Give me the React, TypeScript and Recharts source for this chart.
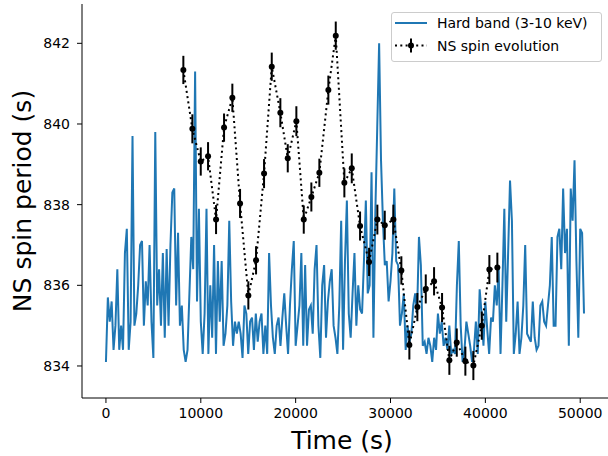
import React from 'react';
import { ComposedChart, Line, XAxis, YAxis, ErrorBar, Legend } from 'recharts';

// hard band light curve, scaled onto the spin-period axis, one value per 200 s bin
const BIN_S = 200;
const hardBand = [
  834.1, 835.7, 835.1, 835.6, 834.4, 835.0, 836.4, 834.4, 835.0, 834.4,
  836.8, 837.4, 834.4, 835.1, 839.7, 835.0, 835.3, 836.0, 837.0, 837.1,
  835.0, 836.1, 835.5, 837.0, 835.1, 834.2, 839.8, 835.5, 836.4, 835.0,
  836.8, 834.7, 836.9, 835.0, 837.0, 838.3, 838.4, 835.5, 837.3, 835.0,
  835.5, 834.4, 834.1, 834.4, 835.8, 837.2, 836.4, 841.3, 835.6, 837.9,
  835.1, 834.3, 835.3, 837.9, 834.3, 836.0, 834.7, 837.0, 834.3, 836.6,
  835.1, 836.6, 834.5,
  834.8, 835.5, 837.6, 835.6, 834.5, 835.1, 834.8, 835.1, 834.8, 834.2,
  835.5, 835.3, 834.3, 835.1, 835.2, 834.4, 835.3, 834.6, 835.1, 835.3,
  834.3, 835.0, 834.3, 836.8, 835.5, 834.7, 834.3, 835.0, 835.2, 834.5,
  835.2, 835.8, 835.0, 834.3, 835.5, 836.4, 837.1, 834.5, 835.0, 835.5,
  836.8, 834.5, 836.5, 834.5, 835.4, 835.5, 834.8, 836.4, 837.0, 835.0,
  834.2, 836.0, 836.5, 834.7, 835.6, 836.1, 836.4, 835.0, 834.7, 834.3,
  835.5, 837.6,
  834.4, 836.6, 838.1, 835.3, 834.7, 835.8, 836.8, 835.0, 836.0, 835.4,
  835.3, 836.6, 838.1, 835.8, 836.0, 838.8, 834.7, 837.8, 839.9, 842.0,
  839.1, 837.6, 836.5, 836.6, 835.6, 836.1, 836.8, 838.4, 836.6, 836.5,
  835.0, 835.3, 835.8, 834.4, 835.0, 834.6, 834.8, 835.5, 835.8, 835.3,
  837.2, 836.5, 834.5, 834.6, 834.3, 834.7, 834.5, 834.1, 834.7, 834.4,
  835.3, 834.8, 835.1, 834.5, 834.7, 834.4, 835.0, 834.3, 834.4, 834.3,
  836.0, 837.1, 835.0, 834.1, 834.4,
  835.1, 834.8, 834.5, 834.1, 834.4, 835.1, 834.3, 835.9, 835.3, 834.5,
  835.6, 834.9, 834.3, 835.2, 835.1, 836.0, 835.5, 836.4, 834.3, 836.0,
  837.9, 835.1, 836.8, 838.6, 837.6, 834.3, 834.8, 835.6, 834.3, 834.7,
  835.5, 837.0, 834.8, 834.7, 834.6, 835.6, 834.7, 834.4, 834.5, 835.5,
  835.6, 835.1, 835.0, 835.5, 836.0, 837.2, 835.0, 835.0, 837.2, 837.4,
  836.4, 838.4, 836.8, 837.4, 834.5, 838.4, 837.6, 839.1, 836.6, 834.7,
  837.4, 837.3, 835.3,
];

// NS spin evolution
const spinTimes = [
  8160, 9110, 9995, 10764, 11608, 12451, 13326, 14138, 15013, 15825,
  16668, 17480, 18387, 19167, 20074, 20854, 21655, 22499, 23448, 24228,
  25135, 25915, 26790, 27739, 28614, 29394, 30301, 31144, 31988, 32831,
  33717, 34592, 35435, 36205, 36985, 37892, 38735, 39621, 40422, 41265,
];
const spinPeriods = [
  841.34, 839.88, 839.07, 839.2, 837.63, 839.91, 840.65, 838.03, 835.75, 836.62,
  838.77, 841.42, 840.28, 839.15, 840.07, 837.63, 838.19, 838.79, 840.84, 842.19,
  838.54, 838.9, 837.47, 836.58, 837.63, 837.49, 837.63, 836.37, 834.52, 835.46,
  835.91, 836.1, 835.45, 834.14, 834.58, 834.12, 834.01, 835.0, 836.39, 836.44,
];
const spinErrors = [
  0.35, 0.36, 0.35, 0.35, 0.36, 0.35, 0.35, 0.36, 0.35, 0.35,
  0.36, 0.35, 0.36, 0.35, 0.37, 0.35, 0.36, 0.35, 0.36, 0.35,
  0.36, 0.37, 0.36, 0.35, 0.37, 0.36, 0.37, 0.35, 0.36, 0.35,
  0.36, 0.35, 0.36, 0.36, 0.35, 0.36, 0.36, 0.35, 0.36, 0.37,
];

const xTicks = [0, 10000, 20000, 30000, 40000, 50000];
const yTicks = [834, 836, 838, 840, 842];
const X_DOMAIN: [number, number] = [-2525, 53035];
const Y_DOMAIN: [number, number] = [833.206, 842.975];

const hardData = hardBand.map((v, i) => ({ t: i * BIN_S, rate: v }));
const spinData = spinTimes.map((t, i) => ({ t, period: spinPeriods[i], err: spinErrors[i] }));

const FONT = '"DejaVu Sans", sans-serif';
const BLUE = '#1f77b4';

const tickStyle = { fill: '#000', fontSize: 14, fontFamily: FONT };

const LegendBox = () => (
  <div
    style={{
      position: 'relative',
      width: 209,
      height: 48,
      border: '1px solid #cccccc',
      borderRadius: 3,
      background: 'rgba(255,255,255,0.8)',
      fontFamily: FONT,
      fontSize: 14,
      color: '#000',
    }}
  >
    <svg width={46} height={48} style={{ position: 'absolute', left: 0, top: 0 }}>
      <line x1={3} x2={35} y1={10} y2={10} stroke={BLUE} strokeWidth={2} />
      <line x1={3} x2={35} y1={32.5} y2={32.5} stroke="#000" strokeWidth={2} strokeDasharray="2 3.3" />
      <line x1={19} x2={19} y1={25.5} y2={39.5} stroke="#000" strokeWidth={2} />
      <circle cx={19} cy={32.5} r={3} fill="#000" />
    </svg>
    <div style={{ position: 'absolute', left: 45, top: 1, lineHeight: '18px', whiteSpace: 'nowrap' }}>
      Hard band (3-10 keV)
    </div>
    <div style={{ position: 'absolute', left: 45, top: 23.5, lineHeight: '18px', whiteSpace: 'nowrap' }}>
      NS spin evolution
    </div>
  </div>
);

const XLabel = () => (
  <text x={342} y={449} textAnchor="middle" fontSize={25} fontFamily={FONT} fill="#000">
    Time (s)
  </text>
);

const YLabel = () => (
  <text
    x={22}
    y={201}
    transform="rotate(-90 22 201)"
    textAnchor="middle"
    dominantBaseline="central"
    fontSize={25}
    fontFamily={FONT}
    fill="#000"
  >
    NS spin period (s)
  </text>
);

export default function App() {
  return (
    <div
      style={{
        position: 'absolute',
        left: 0,
        top: 0,
        width: 608,
        height: 456,
        overflow: 'hidden',
        background: '#fff',
      }}
    >
      <ComposedChart width={620} height={456} margin={{ top: 4, right: 11, bottom: 0, left: 0 }}>
        <XAxis
          xAxisId="top"
          orientation="top"
          type="number"
          domain={X_DOMAIN}
          allowDataOverflow
          height={0}
          tick={false}
          tickLine={false}
          axisLine={{ stroke: '#000', strokeWidth: 1 }}
        />
        <XAxis
          type="number"
          dataKey="t"
          domain={X_DOMAIN}
          allowDataOverflow
          ticks={xTicks}
          height={58}
          tickSize={5}
          tickMargin={5}
          tick={tickStyle}
          tickLine={{ stroke: '#000' }}
          axisLine={{ stroke: '#000', strokeWidth: 1 }}
          label={<XLabel />}
        />
        <YAxis
          type="number"
          domain={Y_DOMAIN}
          allowDataOverflow
          ticks={yTicks}
          width={82}
          tickSize={5}
          tickMargin={7}
          tick={tickStyle}
          tickLine={{ stroke: '#000' }}
          axisLine={{ stroke: '#000', strokeWidth: 1 }}
          label={<YLabel />}
        />
        <Line
          data={hardData}
          dataKey="rate"
          type="linear"
          stroke={BLUE}
          strokeWidth={2}
          dot={false}
          activeDot={false}
          isAnimationActive={false}
          legendType="none"
        />
        <Line
          data={spinData}
          dataKey="period"
          type="linear"
          stroke="#000"
          strokeWidth={2}
          strokeDasharray="2 3.3"
          dot={{ r: 3, fill: '#000', stroke: '#000', strokeWidth: 0 }}
          activeDot={false}
          isAnimationActive={false}
        >
          <ErrorBar dataKey="err" direction="y" width={0} stroke="#000" strokeWidth={2} />
        </Line>
        <Legend
          layout="horizontal"
          verticalAlign="middle"
          align="center"
          content={() => <LegendBox />}
          wrapperStyle={{ position: 'absolute', left: 391, top: 12, width: 211, height: 50 }}
        />
      </ComposedChart>
    </div>
  );
}
